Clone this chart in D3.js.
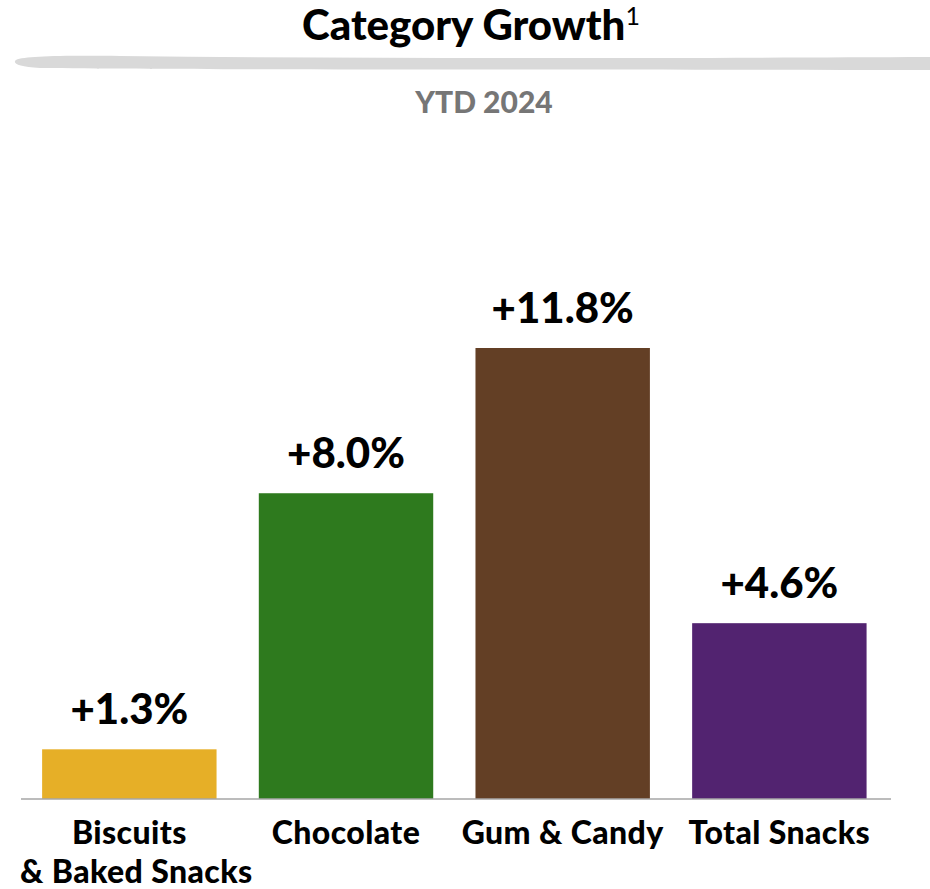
<!DOCTYPE html>
<html><head><meta charset="utf-8">
<script src="https://cdn.jsdelivr.net/npm/d3@7"></script>
<style>body{margin:0;background:#fff}svg{display:block}text{font-family:Lato,"Open Sans",sans-serif;font-weight:900}</style>
</head><body>
<script>
const categories = ["Biscuits\n& Baked Snacks", "Chocolate", "Gum & Candy", "Total Snacks"];
const values = [1.3, 8.0, 11.8, 4.6];
const valueLabels = ["+1.3%", "+8.0%", "+11.8%", "+4.6%"];
const colors = ["#E6AF27", "#2E7A1E", "#633F25", "#522370"];

const W = 930, H = 889;
const svg = d3.select("body").append("svg").attr("width", W).attr("height", H);

// Title
const t = svg.append("text").attr("x", 471).attr("y", 40).attr("text-anchor", "middle")
  .attr("font-size", 42).attr("fill", "#000");
t.append("tspan").text("Category Growth");
t.append("tspan").attr("font-size", 25).attr("font-weight", "normal").attr("dy", -15).text("1");

// Swoosh
svg.append("path")
  .attr("d", "M930,57 C700,58 400,59 120,56 C60,55.5 25,56 16,60 C12,63 18,67 40,68 C200,70 500,69 930,70 Z")
  .attr("fill", "#D9D9D9");

svg.append("text").attr("x", 484).attr("y", 113).attr("text-anchor", "middle")
  .attr("font-size", 30).attr("fill", "#767676").text("YTD 2024");

const x = d3.scaleBand().domain(categories).range([21, 887.7]).paddingInner(0.195).paddingOuter(0.0975);
const y = d3.scaleLinear().domain([0, 11.8]).range([799, 348]);

svg.selectAll("rect.bar").data(values).join("rect").attr("class", "bar")
  .attr("x", (d, i) => x(categories[i])).attr("width", x.bandwidth())
  .attr("y", d => y(d)).attr("height", d => y(0) - y(d))
  .attr("fill", (d, i) => colors[i]);

svg.append("line").attr("x1", 21).attr("x2", 891).attr("y1", y(0)).attr("y2", y(0))
  .attr("stroke", "#A6A6A6").attr("stroke-width", 1.5);

svg.selectAll("text.val").data(values).join("text").attr("class", "val")
  .attr("x", (d, i) => x(categories[i]) + x.bandwidth() / 2)
  .attr("y", d => y(d) - 25).attr("text-anchor", "middle")
  .attr("font-size", 42).attr("fill", "#000").text((d, i) => valueLabels[i]);

const cl = svg.selectAll("text.cat").data(categories).join("text").attr("class", "cat")
  .attr("x", d => x(d) + x.bandwidth() / 2).attr("y", 844).attr("text-anchor", "middle")
  .attr("font-size", 32).attr("letter-spacing", 0.4).attr("fill", "#000");
cl.each(function(d) {
  const lines = d.split("\n");
  const el = d3.select(this);
  const cx = +el.attr("x");
  lines.forEach((ln, j) => el.append("tspan").attr("x", cx + (j ? 7 : 0)).attr("dy", j ? 38.5 : 0).text(ln));
});
</script>
</body></html>
